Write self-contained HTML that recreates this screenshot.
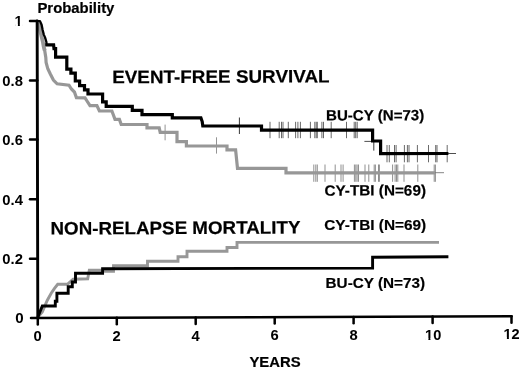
<!DOCTYPE html>
<html><head><meta charset="utf-8"><title>Survival</title>
<style>html,body{margin:0;padding:0;background:#fff}svg{display:block;will-change:transform}</style></head>
<body>
<svg width="520" height="370" viewBox="0 0 520 370">
<g id="cens">
<line x1="165.1" y1="124.6" x2="165.1" y2="140.3" stroke="#888" stroke-width="0.9"/>
<line x1="216.5" y1="137.3" x2="216.5" y2="153.6" stroke="#888" stroke-width="0.9"/>
<line x1="239.4" y1="117.5" x2="239.4" y2="134" stroke="#222" stroke-width="0.9"/>
<line x1="270.0" y1="121.8" x2="270.0" y2="138.2" stroke="#2a2a2a" stroke-width="0.7"/><line x1="279.2" y1="121.8" x2="279.2" y2="138.2" stroke="#2a2a2a" stroke-width="0.7"/><line x1="281.5" y1="121.8" x2="281.5" y2="138.2" stroke="#2a2a2a" stroke-width="0.7"/><line x1="283.0" y1="121.8" x2="283.0" y2="138.2" stroke="#2a2a2a" stroke-width="0.7"/><line x1="288.3" y1="121.8" x2="288.3" y2="138.2" stroke="#2a2a2a" stroke-width="0.7"/><line x1="295.6" y1="121.8" x2="295.6" y2="138.2" stroke="#2a2a2a" stroke-width="0.7"/><line x1="297.9" y1="121.8" x2="297.9" y2="138.2" stroke="#2a2a2a" stroke-width="0.7"/><line x1="300.4" y1="121.8" x2="300.4" y2="138.2" stroke="#2a2a2a" stroke-width="0.7"/><line x1="310.4" y1="121.8" x2="310.4" y2="138.2" stroke="#2a2a2a" stroke-width="0.7"/><line x1="314.8" y1="121.8" x2="314.8" y2="138.2" stroke="#2a2a2a" stroke-width="0.7"/><line x1="316.2" y1="121.8" x2="316.2" y2="138.2" stroke="#2a2a2a" stroke-width="0.7"/><line x1="317.3" y1="121.8" x2="317.3" y2="138.2" stroke="#2a2a2a" stroke-width="0.7"/><line x1="321.9" y1="121.8" x2="321.9" y2="138.2" stroke="#2a2a2a" stroke-width="0.7"/><line x1="323.5" y1="121.8" x2="323.5" y2="138.2" stroke="#2a2a2a" stroke-width="0.7"/><line x1="331.2" y1="121.8" x2="331.2" y2="138.2" stroke="#2a2a2a" stroke-width="0.7"/><line x1="346.5" y1="121.8" x2="346.5" y2="138.2" stroke="#2a2a2a" stroke-width="0.7"/><line x1="354.2" y1="121.8" x2="354.2" y2="138.2" stroke="#2a2a2a" stroke-width="0.7"/><line x1="355.7" y1="121.8" x2="355.7" y2="138.2" stroke="#2a2a2a" stroke-width="0.7"/><line x1="357.2" y1="121.8" x2="357.2" y2="138.2" stroke="#2a2a2a" stroke-width="0.7"/>
<line x1="387.0" y1="145.0" x2="387.0" y2="162.3" stroke="#2a2a2a" stroke-width="0.7"/><line x1="389.3" y1="145.0" x2="389.3" y2="162.3" stroke="#2a2a2a" stroke-width="0.7"/><line x1="394.5" y1="145.0" x2="394.5" y2="162.3" stroke="#2a2a2a" stroke-width="0.7"/><line x1="396.1" y1="145.0" x2="396.1" y2="162.3" stroke="#2a2a2a" stroke-width="0.7"/><line x1="404.4" y1="145.0" x2="404.4" y2="162.3" stroke="#2a2a2a" stroke-width="0.7"/><line x1="407.4" y1="145.0" x2="407.4" y2="162.3" stroke="#2a2a2a" stroke-width="0.7"/><line x1="409.0" y1="145.0" x2="409.0" y2="162.3" stroke="#2a2a2a" stroke-width="0.7"/><line x1="417.4" y1="145.0" x2="417.4" y2="162.3" stroke="#2a2a2a" stroke-width="0.7"/><line x1="428.5" y1="145.0" x2="428.5" y2="162.3" stroke="#2a2a2a" stroke-width="0.7"/><line x1="435.7" y1="145.0" x2="435.7" y2="162.3" stroke="#2a2a2a" stroke-width="0.7"/><line x1="437.0" y1="145.0" x2="437.0" y2="162.3" stroke="#2a2a2a" stroke-width="0.7"/><line x1="447.2" y1="145.0" x2="447.2" y2="162.3" stroke="#2a2a2a" stroke-width="0.7"/>
<line x1="373.8" y1="141.4" x2="373.8" y2="150.6" stroke="#222" stroke-width="0.9"/>
<line x1="364.4" y1="141.4" x2="373" y2="141.4" stroke="#222" stroke-width="0.8"/>
<line x1="313.8" y1="164.5" x2="313.8" y2="181.8" stroke="#606060" stroke-width="0.7"/><line x1="315.8" y1="164.5" x2="315.8" y2="181.8" stroke="#606060" stroke-width="0.7"/><line x1="317.3" y1="164.5" x2="317.3" y2="181.8" stroke="#606060" stroke-width="0.7"/><line x1="325.0" y1="164.5" x2="325.0" y2="181.8" stroke="#606060" stroke-width="0.7"/><line x1="335.2" y1="164.5" x2="335.2" y2="181.8" stroke="#606060" stroke-width="0.7"/><line x1="341.0" y1="164.5" x2="341.0" y2="181.8" stroke="#606060" stroke-width="0.7"/><line x1="343.1" y1="164.5" x2="343.1" y2="181.8" stroke="#606060" stroke-width="0.7"/><line x1="354.4" y1="164.5" x2="354.4" y2="181.8" stroke="#606060" stroke-width="0.7"/><line x1="355.8" y1="164.5" x2="355.8" y2="181.8" stroke="#606060" stroke-width="0.7"/><line x1="357.1" y1="164.5" x2="357.1" y2="181.8" stroke="#606060" stroke-width="0.7"/><line x1="358.5" y1="164.5" x2="358.5" y2="181.8" stroke="#606060" stroke-width="0.7"/><line x1="365.0" y1="164.5" x2="365.0" y2="181.8" stroke="#606060" stroke-width="0.7"/><line x1="368.8" y1="164.5" x2="368.8" y2="181.8" stroke="#606060" stroke-width="0.7"/><line x1="374.2" y1="164.5" x2="374.2" y2="181.8" stroke="#606060" stroke-width="0.7"/><line x1="375.4" y1="164.5" x2="375.4" y2="181.8" stroke="#606060" stroke-width="0.7"/><line x1="378.5" y1="164.5" x2="378.5" y2="181.8" stroke="#606060" stroke-width="0.7"/><line x1="379.4" y1="164.5" x2="379.4" y2="181.8" stroke="#606060" stroke-width="0.7"/><line x1="392.6" y1="164.5" x2="392.6" y2="181.8" stroke="#606060" stroke-width="0.7"/><line x1="395.1" y1="164.5" x2="395.1" y2="181.8" stroke="#606060" stroke-width="0.7"/><line x1="396.5" y1="164.5" x2="396.5" y2="181.8" stroke="#606060" stroke-width="0.7"/><line x1="397.8" y1="164.5" x2="397.8" y2="181.8" stroke="#606060" stroke-width="0.7"/><line x1="404.0" y1="164.5" x2="404.0" y2="181.8" stroke="#606060" stroke-width="0.7"/><line x1="417.8" y1="164.5" x2="417.8" y2="181.8" stroke="#606060" stroke-width="0.7"/><line x1="434.2" y1="164.5" x2="434.2" y2="181.8" stroke="#606060" stroke-width="0.7"/><line x1="435.4" y1="164.5" x2="435.4" y2="181.8" stroke="#606060" stroke-width="0.7"/>
<line x1="447" y1="153.5" x2="456" y2="153.5" stroke="#222" stroke-width="0.8"/>
<line x1="434" y1="172.7" x2="444" y2="172.7" stroke="#666" stroke-width="0.8"/>
</g>
<path d="M37.9,317.0 L42.3,311.9 L47.2,300.5 L51.2,293.2 L54.5,288.4 L57.7,284.3 L67.4,284.3 L73.1,279.2 L87.7,278.8 L89.3,270.2 L104.0,270.2 L105.0,271.2 L113.5,271.2 L113.5,265.8 L147.5,265.8 L147.5,261.2 L178.0,261.2 L178.0,256.8 L187.0,256.8 L187.0,251.3 L227.0,251.3 L227.0,247.5 L237.0,247.5 L237.0,242.4 L439.0,242.4" fill="none" stroke="#979797" stroke-width="2.9" stroke-linejoin="miter"/>
<path d="M37.9,317.0 L42.3,306.0 L55.3,306.0 L55.3,301.3 L56.9,301.3 L56.9,293.3 L68.2,293.3 L68.2,286.8 L72.3,286.8 L72.3,282.0 L75.5,282.0 L75.5,273.2 L102.6,273.2 L102.6,268.7 L372.6,268.1 L372.6,257.3 L448.4,256.7" fill="none" stroke="#000" stroke-width="2.9" stroke-linejoin="miter"/>
<path d="M38.9,22.5 L40.0,29.8 L41.8,37.6 L42.9,42.0 L43.6,46.3 L44.7,50.5" fill="none" stroke="#979797" stroke-width="3.8" stroke-linejoin="round"/>
<path d="M44.2,48.0 L44.7,50.5 L45.8,57.5 L46.1,62.5 L47.8,68.8 L50.2,73.8 L53.4,80.0 L57.1,83.8 L69.0,85.2 L71.4,89.0 L74.4,92.0 L76.4,97.6 L85.0,97.8 L87.0,101.0 L90.0,105.6 L96.9,105.6 L99.4,111.0 L111.9,111.0 L115.0,119.4 L119.4,119.4 L121.2,124.5 L147.0,124.5 L147.0,127.8 L159.2,127.8 L160.2,132.3 L177.0,132.3 L177.0,141.7 L186.4,141.7 L186.4,146.0 L227.0,146.0 L227.0,149.8 L235.6,149.8 L237.5,168.3 L286.0,168.3 L286.0,172.9 L435.2,172.8" fill="none" stroke="#979797" stroke-width="3.2" stroke-linejoin="miter"/>
<path d="M37.2,21.1 L40.0,21.1 L41.6,24.7 L42.6,29.8 L43.8,34.6 L45.1,37.6 L46.4,42.0 L46.6,45.6" fill="none" stroke="#000" stroke-width="2.3" stroke-linejoin="round"/>
<path d="M45.4,44.8 L53.6,44.8 L54.0,48.6 L55.6,48.6 L55.6,57.2 L66.8,57.2 L66.8,69.2 L70.9,69.2 L70.9,73.2 L75.3,73.2 L75.3,81.0 L79.6,81.0 L79.6,85.6 L84.5,85.6 L84.5,89.8 L88.0,89.8 L88.0,94.0 L102.6,94.0 L102.6,101.8 L106.2,101.8 L106.2,106.3 L132.3,106.3 L132.3,110.3 L142.0,110.3 L142.0,114.6 L172.3,114.6 L172.3,117.8 L200.9,117.8 L202.2,121.5 L202.8,126.0 L261.5,126.0 L261.5,130.1 L372.6,130.0 L372.6,141.0 L380.6,141.0 L380.6,153.6 L448.4,153.5" fill="none" stroke="#000" stroke-width="3.2" stroke-linejoin="miter"/>
<g stroke="#000" stroke-width="2.5" fill="none" stroke-linecap="round">
<path d="M37.15,21 L37.8,318.1" stroke-width="2.9"/>
<path d="M31,318.1 L511.6,316.3"/>
<path d="M30,21.0 H37.15"/>
<path d="M30,80.4 H37.28"/>
<path d="M30,139.6 H37.41"/>
<path d="M30,199.2 H37.54"/>
<path d="M30,258.7 H37.67"/>
<path d="M37.8,318.07 V324.47"/>
<path d="M116.8,317.78 V324.18"/>
<path d="M195.7,317.48 V323.88"/>
<path d="M274.7,317.19 V323.59"/>
<path d="M353.6,316.89 V323.29"/>
<path d="M432.6,316.60 V323.00"/>
<path d="M511.5,316.30 V322.70"/>
</g>
<g font-family="'Liberation Sans', Arial, Helvetica, sans-serif" font-weight="bold" fill="#000" stroke="#000" stroke-width="0.2">
<text x="37.4" y="13.3" font-size="14.4" text-anchor="start" textLength="77" lengthAdjust="spacingAndGlyphs">Probability</text>
<text x="14.6" y="25.6" font-size="14.4" text-anchor="start" stroke-width="0">1</text>
<text x="2.3" y="85.7" font-size="14.8" text-anchor="start" textLength="20.6" lengthAdjust="spacingAndGlyphs" stroke-width="0">0.8</text>
<text x="2.3" y="144.9" font-size="14.8" text-anchor="start" textLength="20.6" lengthAdjust="spacingAndGlyphs" stroke-width="0">0.6</text>
<text x="2.3" y="204.5" font-size="14.8" text-anchor="start" textLength="20.6" lengthAdjust="spacingAndGlyphs" stroke-width="0">0.4</text>
<text x="2.3" y="264.0" font-size="14.8" text-anchor="start" textLength="20.6" lengthAdjust="spacingAndGlyphs" stroke-width="0">0.2</text>
<text x="15.2" y="323.0" font-size="14.8" text-anchor="start" textLength="8.4" lengthAdjust="spacingAndGlyphs" stroke-width="0">0</text>
<text x="33.6" y="341.2" font-size="14.4" text-anchor="start" textLength="8.2" lengthAdjust="spacingAndGlyphs" stroke-width="0.05">0</text>
<text x="112.6" y="341.0" font-size="14.4" text-anchor="start" textLength="8.2" lengthAdjust="spacingAndGlyphs" stroke-width="0.05">2</text>
<text x="191.5" y="340.6" font-size="14.4" text-anchor="start" textLength="8.2" lengthAdjust="spacingAndGlyphs" stroke-width="0.05">4</text>
<text x="270.4" y="340.3" font-size="14.4" text-anchor="start" textLength="8.2" lengthAdjust="spacingAndGlyphs" stroke-width="0.05">6</text>
<text x="349.4" y="340.3" font-size="14.4" text-anchor="start" textLength="8.2" lengthAdjust="spacingAndGlyphs" stroke-width="0.05">8</text>
<text x="425.1" y="339.6" font-size="14.4" text-anchor="start" textLength="16.2" lengthAdjust="spacingAndGlyphs" stroke-width="0.05">10</text>
<text x="503.5" y="339.1" font-size="14.4" text-anchor="start" textLength="16.2" lengthAdjust="spacingAndGlyphs" stroke-width="0.05">12</text>
<text x="249.4" y="367.2" font-size="14" text-anchor="start" textLength="51.2" lengthAdjust="spacingAndGlyphs">YEARS</text>
<text x="112.2" y="83.3" font-size="18" text-anchor="start" textLength="217.4" lengthAdjust="spacingAndGlyphs" transform="rotate(-0.24 112.2 83.3)">EVENT-FREE SURVIVAL</text>
<text x="50.5" y="234.6" font-size="18" text-anchor="start" textLength="250.0" lengthAdjust="spacingAndGlyphs" transform="rotate(-0.24 50.5 234.6)">NON-RELAPSE MORTALITY</text>
<text x="326.0" y="120.6" font-size="15" text-anchor="start" textLength="98.3" lengthAdjust="spacingAndGlyphs" transform="rotate(-0.15 326.0 120.6)">BU-CY (N=73)</text>
<text x="324.4" y="195.7" font-size="15" text-anchor="start" textLength="101.6" lengthAdjust="spacingAndGlyphs" transform="rotate(-0.15 324.4 195.7)">CY-TBI (N=69)</text>
<text x="324.2" y="230.4" font-size="15" text-anchor="start" textLength="102" lengthAdjust="spacingAndGlyphs">CY-TBI (N=69)</text>
<text x="325.6" y="288.2" font-size="15" text-anchor="start" textLength="99.4" lengthAdjust="spacingAndGlyphs">BU-CY (N=73)</text>
</g>
<g fill="#fff">
<rect x="15.2" y="24.0" width="2.70" height="2.4"/><rect x="19.85" y="24.0" width="2.85" height="2.4"/>
<rect x="425.3" y="338.0" width="3.09" height="2.4"/><rect x="430.42" y="338.0" width="2.78" height="2.4"/>
<rect x="503.8" y="337.0" width="3.09" height="2.4"/><rect x="508.9" y="337.0" width="2.70" height="2.4"/>
</g>
</svg>
</body></html>
